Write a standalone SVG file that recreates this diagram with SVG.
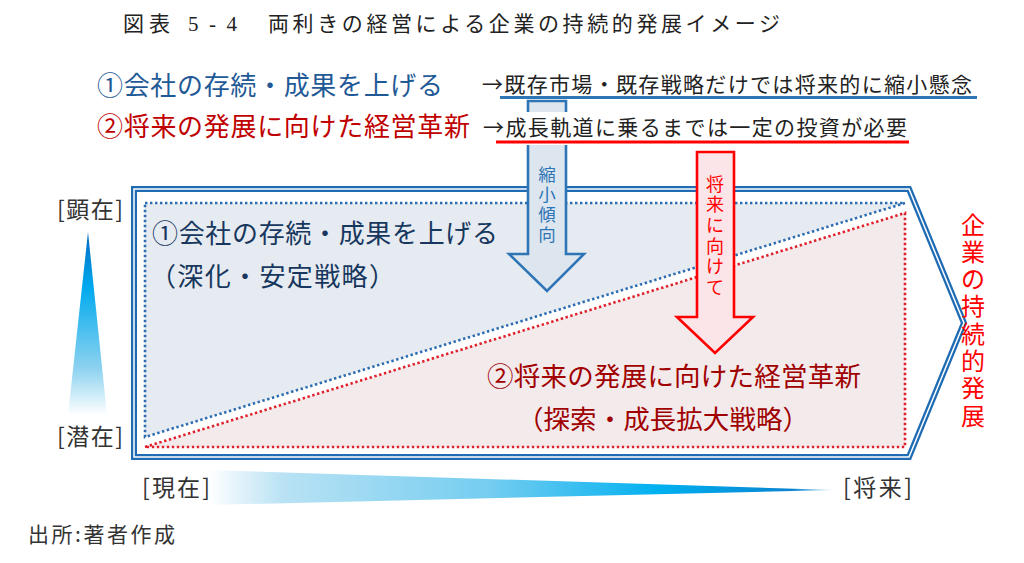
<svg xmlns="http://www.w3.org/2000/svg" width="1024" height="563" viewBox="0 0 1024 563">
<defs>
<style>
.jp{font-family:"Noto Sans CJK JP","Noto Sans",sans-serif}
.vj{font-family:"Liberation Sans","Noto Sans CJK JP",sans-serif}
.ttl{font-family:"Liberation Serif","Noto Sans CJK JP",serif;font-size:21px;fill:#222}
.lbl{font-size:23px;fill:#333}
.dotb{fill:#e6ebf1;stroke:#2b6cb0;stroke-width:2.6;stroke-dasharray:2.4 2.6}
.dotr{fill:#f3eaec;stroke:#e0202a;stroke-width:2.6;stroke-dasharray:2.4 2.6}
</style>
<linearGradient id="gv" x1="0" y1="0" x2="0" y2="1">
<stop offset="0" stop-color="#0068c0"/>
<stop offset="0.3" stop-color="#00aaee"/>
<stop offset="0.75" stop-color="#8fd3f0"/>
<stop offset="1" stop-color="#ffffff"/>
</linearGradient>
<linearGradient id="gh" x1="0" y1="0" x2="1" y2="0">
<stop offset="0" stop-color="#ffffff"/>
<stop offset="0.12" stop-color="#b9e2f4"/>
<stop offset="0.45" stop-color="#74cdf0"/>
<stop offset="0.72" stop-color="#00b0f0"/>
<stop offset="0.93" stop-color="#0a84d0"/>
<stop offset="1" stop-color="#cfe8f8"/>
</linearGradient>
</defs>
<rect width="1024" height="563" fill="#ffffff"/>

<g id="title">
<text class="ttl" x="123" y="31" textLength="47">図表</text>
<text class="ttl" x="188" y="31" textLength="49">5-4</text>
<text class="ttl" x="268" y="31" textLength="512">両利きの経営による企業の持続的発展イメージ</text>
</g>

<g id="main-shape">
<polygon points="134,189 909,189 964,323 909,457 134,457" fill="#ffffff" stroke="#1f6cb5" stroke-width="6" stroke-linejoin="miter"/>
<polygon points="134,189 909,189 964,323 909,457 134,457" fill="none" stroke="#ffffff" stroke-width="1.5"/>
</g>

<g id="region-exploit">
<polygon class="dotb" points="145,203 905,203 145,437"/>
<text class="jp" x="152" y="243" font-size="26" fill="#17375e" textLength="346">①会社の存続・成果を上げる</text>
<text class="jp" x="150" y="286" font-size="26" fill="#17375e" textLength="245">（深化・安定戦略）</text>
</g>

<g id="region-explore">
<polygon class="dotr" points="145,447 905,213 905,447"/>
<text class="jp" x="487" y="386" font-size="26.5" fill="#a00000" textLength="374">②将来の発展に向けた経営革新</text>
<text class="jp" x="517" y="429" font-size="26.5" fill="#a00000" textLength="292">（探索・成長拡大戦略）</text>
</g>

<g id="connectors">
<g id="arrow-shrink">
<polygon points="528,101 566,101 566,254 584,254 547,291 509,254 528,254" fill="#dde6ef" stroke="#2e75b6" stroke-width="2.6"/>
<text class="vj" font-size="17.5" fill="#2e75b6" text-anchor="middle"><tspan x="547" y="181">縮</tspan><tspan x="547" y="201">小</tspan><tspan x="547" y="221">傾</tspan><tspan x="547" y="241">向</tspan></text>
</g>
<g id="arrow-future">
<polygon points="697,152 734,152 734,317 753,317 715,353 677,317 697,317" fill="#fbe5e8" stroke="#ff0000" stroke-width="2.6"/>
<text class="vj" font-size="18" fill="#ff0000" text-anchor="middle"><tspan x="715" y="190.5">将</tspan><tspan x="715" y="211.2">来</tspan><tspan x="715" y="231.9">に</tspan><tspan x="715" y="252.6">向</tspan><tspan x="715" y="273.3">け</tspan><tspan x="715" y="294">て</tspan></text>
</g>
</g>

<g id="legend">
<text class="jp" x="97" y="95" font-size="26" fill="#1f5a96" textLength="346">①会社の存続・成果を上げる</text>
<text class="jp" x="97" y="136" font-size="26" fill="#c00000" textLength="373">②将来の発展に向けた経営革新</text>
<text class="jp" x="482" y="92" font-size="21" fill="#222" textLength="490">→既存市場・既存戦略だけでは将来的に縮小懸念</text>
<line x1="500" y1="97.5" x2="977" y2="97.5" stroke="#2e75b6" stroke-width="3"/>
<rect x="490" y="112" width="425" height="33" fill="#ffffff"/>
<text class="jp" x="483" y="135" font-size="21" fill="#222" textLength="424">→成長軌道に乗るまでは一定の投資が必要</text>
<line x1="496" y1="142" x2="909" y2="142" stroke="#ff0000" stroke-width="3"/>
</g>

<g id="axis-vertical">
<polygon points="88,232 107,415 68,415" fill="url(#gv)"/>
<text class="jp lbl" x="57" y="218" textLength="66">[顕在]</text>
<text class="jp lbl" x="57" y="445" textLength="66">[潜在]</text>
</g>

<g id="axis-horizontal">
<polygon points="208,470 835,490 208,505" fill="url(#gh)"/>
<text class="jp lbl" x="142" y="496" textLength="68">[現在]</text>
<text class="jp lbl" x="843" y="496" textLength="69">[将来]</text>
</g>

<g id="outcome">
<text class="vj" font-size="24" fill="#ff0000" text-anchor="middle"><tspan x="973" y="233.5">企</tspan><tspan x="973" y="260.8">業</tspan><tspan x="973" y="288.1">の</tspan><tspan x="973" y="315.4">持</tspan><tspan x="973" y="342.7">続</tspan><tspan x="973" y="370">的</tspan><tspan x="973" y="397.3">発</tspan><tspan x="973" y="424.6">展</tspan></text>
</g>

<g id="source">
<text class="jp" x="28" y="542" font-size="21" fill="#333" textLength="147">出所:著者作成</text>
</g>
</svg>
